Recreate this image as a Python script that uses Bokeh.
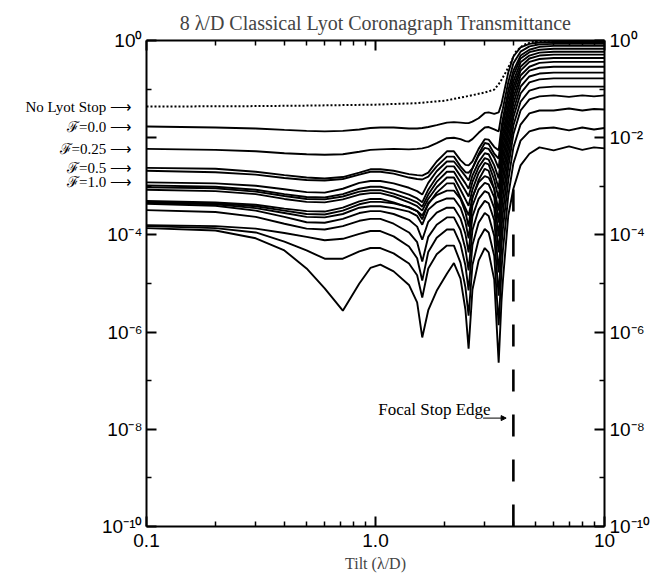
from bokeh.plotting import figure
from bokeh.models import (LogAxis, FixedTicker, CustomJSTickFormatter, Label, Arrow, NormalHead)
from bokeh.embed import file_html
from bokeh.resources import INLINE

# ---------------- data ----------------
tilt = [0.1, 0.2, 0.3, 0.4, 0.5, 0.6, 0.72, 0.85, 0.95, 1.05, 1.2, 1.4, 1.52, 1.6, 1.7, 1.85,
        2.05, 2.2, 2.35, 2.47, 2.55, 2.65, 2.82, 3.0, 3.12, 3.3, 3.45, 3.55, 3.6, 3.8, 4.0,
        4.3, 4.7, 5.2, 6.0, 7.0, 8.0, 9.0, 10.0]

# log10 of transmittance, one list per Lyot-stop curve (top to bottom)
curve_01 = [-1.77,-1.79,-1.81,-1.84,-1.86,-1.87,-1.86,-1.83,-1.80,-1.79,-1.79,-1.81,-1.81,-1.80,-1.78,-1.74,-1.69,-1.68,-1.69,-1.70,-1.70,-1.67,-1.60,-1.49,-1.48,-1.51,-1.48,-1.30,-1.17,-0.66,-0.33,-0.14,-0.07,-0.04,-0.03,-0.03,-0.03,-0.03,-0.03]
curve_02 = [-2.23,-2.25,-2.28,-2.32,-2.34,-2.35,-2.34,-2.29,-2.25,-2.24,-2.23,-2.24,-2.23,-2.22,-2.19,-2.11,-2.01,-2.00,-2.03,-2.07,-2.08,-2.03,-1.90,-1.79,-1.78,-1.83,-1.87,-1.52,-1.40,-0.86,-0.47,-0.23,-0.12,-0.08,-0.07,-0.07,-0.07,-0.07,-0.07]
curve_03 = [-2.62,-2.64,-2.70,-2.77,-2.82,-2.84,-2.81,-2.72,-2.65,-2.65,-2.68,-2.75,-2.77,-2.78,-2.72,-2.49,-2.28,-2.28,-2.46,-2.56,-2.57,-2.49,-2.23,-2.03,-2.04,-2.19,-2.26,-1.77,-1.61,-1.03,-0.62,-0.31,-0.19,-0.13,-0.11,-0.11,-0.11,-0.11,-0.11]
curve_04 = [-2.68,-2.71,-2.76,-2.83,-2.87,-2.88,-2.85,-2.76,-2.70,-2.70,-2.74,-2.82,-2.85,-2.86,-2.80,-2.59,-2.39,-2.39,-2.59,-2.71,-2.72,-2.63,-2.34,-2.11,-2.13,-2.33,-2.43,-1.92,-1.75,-1.17,-0.72,-0.37,-0.24,-0.19,-0.17,-0.17,-0.17,-0.17,-0.17]
curve_05 = [-2.92,-2.94,-2.99,-3.06,-3.12,-3.13,-3.05,-2.93,-2.89,-2.89,-2.94,-3.03,-3.10,-3.17,-2.93,-2.69,-2.49,-2.49,-2.66,-2.79,-2.88,-2.63,-2.37,-2.21,-2.23,-2.41,-2.63,-2.09,-1.91,-1.32,-0.84,-0.45,-0.31,-0.25,-0.23,-0.23,-0.23,-0.23,-0.23]
curve_06 = [-2.98,-3.01,-3.07,-3.16,-3.22,-3.23,-3.16,-3.05,-3.01,-3.01,-3.07,-3.17,-3.25,-3.33,-3.07,-2.81,-2.59,-2.59,-2.79,-2.94,-3.05,-2.78,-2.50,-2.32,-2.34,-2.57,-2.84,-2.26,-2.06,-1.44,-0.95,-0.54,-0.37,-0.31,-0.29,-0.29,-0.29,-0.29,-0.29]
curve_07 = [-3.02,-3.04,-3.11,-3.20,-3.26,-3.27,-3.21,-3.11,-3.08,-3.08,-3.15,-3.26,-3.33,-3.42,-3.17,-2.91,-2.70,-2.70,-2.92,-3.09,-3.21,-2.91,-2.61,-2.42,-2.45,-2.72,-3.05,-2.43,-2.22,-1.58,-1.05,-0.62,-0.44,-0.38,-0.36,-0.36,-0.36,-0.36,-0.36]
curve_08 = [-3.07,-3.10,-3.16,-3.26,-3.32,-3.33,-3.27,-3.17,-3.14,-3.14,-3.21,-3.33,-3.41,-3.50,-3.26,-3.02,-2.82,-2.82,-3.07,-3.27,-3.40,-3.07,-2.73,-2.52,-2.55,-2.87,-3.25,-2.60,-2.39,-1.73,-1.17,-0.72,-0.54,-0.46,-0.44,-0.44,-0.44,-0.44,-0.44]
curve_09 = [-3.30,-3.33,-3.38,-3.46,-3.51,-3.52,-3.44,-3.31,-3.26,-3.26,-3.33,-3.44,-3.51,-3.60,-3.37,-3.13,-2.94,-2.94,-3.23,-3.45,-3.60,-3.24,-2.87,-2.64,-2.68,-3.06,-3.50,-2.80,-2.57,-1.87,-1.30,-0.82,-0.62,-0.56,-0.54,-0.54,-0.54,-0.54,-0.54]
curve_10 = [-3.32,-3.35,-3.41,-3.50,-3.57,-3.58,-3.50,-3.37,-3.32,-3.32,-3.35,-3.43,-3.51,-3.68,-3.34,-3.18,-3.09,-3.09,-3.26,-3.53,-3.83,-3.22,-2.92,-2.79,-2.82,-3.05,-3.75,-3.02,-2.78,-2.04,-1.44,-0.95,-0.74,-0.68,-0.66,-0.66,-0.66,-0.66,-0.66]
curve_11 = [-3.34,-3.37,-3.45,-3.55,-3.63,-3.64,-3.57,-3.44,-3.41,-3.41,-3.45,-3.52,-3.61,-3.79,-3.48,-3.33,-3.25,-3.25,-3.44,-3.73,-4.07,-3.40,-3.07,-2.93,-2.96,-3.23,-4.03,-3.24,-2.98,-2.22,-1.58,-1.09,-0.86,-0.80,-0.78,-0.78,-0.78,-0.78,-0.78]
curve_12 = [-3.36,-3.40,-3.50,-3.63,-3.74,-3.75,-3.67,-3.55,-3.51,-3.51,-3.57,-3.69,-3.83,-4.10,-3.73,-3.54,-3.44,-3.44,-3.66,-3.98,-4.36,-3.62,-3.26,-3.10,-3.14,-3.45,-4.36,-3.53,-3.25,-2.41,-1.75,-1.26,-1.03,-0.97,-0.95,-0.95,-0.95,-0.95,-0.95]
curve_13 = [-3.49,-3.53,-3.63,-3.77,-3.87,-3.89,-3.82,-3.71,-3.67,-3.67,-3.77,-3.95,-4.15,-4.55,-4.04,-3.79,-3.64,-3.64,-3.90,-4.29,-4.73,-3.90,-3.48,-3.30,-3.35,-3.70,-4.77,-3.85,-3.54,-2.61,-1.93,-1.44,-1.21,-1.15,-1.13,-1.16,-1.13,-1.15,-1.13]
curve_14 = [-3.80,-3.82,-3.87,-3.96,-4.04,-4.11,-4.08,-3.98,-3.92,-3.92,-4.03,-4.24,-4.48,-4.94,-4.35,-4.06,-3.89,-3.89,-4.19,-4.63,-5.14,-4.21,-3.75,-3.55,-3.61,-4.02,-5.25,-4.22,-3.87,-2.88,-2.20,-1.73,-1.50,-1.44,-1.44,-1.40,-1.44,-1.41,-1.42]
curve_15 = [-3.82,-3.86,-3.95,-4.14,-4.32,-4.49,-4.49,-4.34,-4.27,-4.27,-4.38,-4.59,-4.83,-5.29,-4.69,-4.40,-4.22,-4.22,-4.57,-5.08,-5.66,-4.62,-4.10,-3.88,-3.95,-4.43,-5.86,-4.71,-4.32,-3.19,-2.53,-2.06,-1.87,-1.81,-1.79,-1.85,-1.79,-1.83,-1.80]
curve_16 = [-3.86,-3.91,-4.07,-4.32,-4.69,-5.10,-5.56,-5.00,-4.68,-4.61,-4.75,-5.03,-5.39,-6.11,-5.55,-5.15,-4.80,-4.58,-4.90,-5.54,-6.34,-5.13,-4.53,-4.27,-4.36,-4.92,-6.63,-5.36,-4.94,-3.60,-3.05,-2.57,-2.33,-2.20,-2.26,-2.18,-2.25,-2.20,-2.22]

curves = [curve_01, curve_02, curve_03, curve_04, curve_05, curve_06, curve_07, curve_08,
          curve_09, curve_10, curve_11, curve_12, curve_13, curve_14, curve_15, curve_16]

# "No Lyot Stop" dotted curve
nolyot_tilt = [0.1, 0.3, 0.5, 1.0, 1.5, 2.0, 2.5, 3.0, 3.3, 3.5, 3.7, 3.9, 4.1, 4.4, 4.8, 5.5, 7.0, 10.0]
nolyot_log = [-1.36,-1.35,-1.34,-1.32,-1.29,-1.24,-1.15,-1.07,-1.01,-0.86,-0.66,-0.45,-0.23,-0.10,-0.03,-0.01,-0.006,-0.004]

focal_stop_edge = 4.0          # lambda/D
focal_stop_line_top = -3.0     # log10, top of the drawn dashed line

left_labels = ["No Lyot Stop   \u27f6", "\u2131=0.0   \u27f6", "\u2131=0.25   \u27f6",
               "\u2131=0.5   \u27f6", "\u2131=1.0   \u27f6"]
left_label_levels = [nolyot_log[0], curve_01[0], curve_02[0], curve_03[0], curve_05[0]]

x_ticks = [0.1, 1.0, 10.0]
x_tick_labels = ["0.1", "1.0", "10"]
x_minor = [0.2, 0.3, 0.4, 0.5, 0.6, 0.7, 0.8, 0.9, 2, 3, 4, 5, 6, 7, 8, 9]
y_ticks = [1e-10, 1e-8, 1e-6, 1e-4, 1e-2, 1.0]
y_tick_labels_right = ["10\u207b\u00b9\u2070", "10\u207b\u2078", "10\u207b\u2076", "10\u207b\u2074", "10\u207b\u00b2", "10\u2070"]
y_tick_labels_left = ["10\u207b\u00b9\u2070", "10\u207b\u2078", "10\u207b\u2076", "10\u207b\u2074", "", "10\u2070"]
y_minor = [1e-9, 1e-7, 1e-5, 1e-3, 1e-1]

SERIF = "Liberation Serif"
SANS = "Liberation Sans"

# ---------------- figure ----------------
p = figure(width=653, height=580, x_axis_type="log", y_axis_type="log",
           x_range=(0.1, 10), y_range=(1e-10, 1.0),
           output_backend="svg", toolbar_location=None,
           min_border_left=146, min_border_right=49, min_border_top=40, min_border_bottom=54)
p.title.text = "8 \u03bb/D Classical Lyot Coronagraph Transmittance"
p.title.text_font = SERIF
p.title.text_font_size = "20px"
p.title.text_font_style = "normal"
p.title.align = "center"
p.title.standoff = 14
p.grid.visible = False
p.outline_line_color = None
p.background_fill_color = "white"
p.border_fill_color = "white"

def fmt(vals, labs):
    return CustomJSTickFormatter(args=dict(vals=vals, labs=labs), code="""
        for (let i = 0; i < vals.length; i++) {
            if (Math.abs(Math.log10(tick) - Math.log10(vals[i])) < 1e-6) { return labs[i]; }
        }
        return "";
    """)

def style(ax, show_labels):
    ax.axis_line_width = 2
    ax.axis_line_color = "black"
    ax.major_tick_in = 10
    ax.major_tick_out = 0
    ax.minor_tick_in = 5
    ax.minor_tick_out = 0
    ax.major_tick_line_width = 2
    ax.minor_tick_line_width = 1.5
    ax.major_tick_line_color = "black"
    ax.minor_tick_line_color = "black"
    ax.major_label_text_font = SANS
    ax.major_label_text_font_style = "normal"
    ax.major_label_text_color = "black"
    ax.major_label_text_font_size = "19px" if show_labels else "0px"

xt = FixedTicker(ticks=x_ticks, minor_ticks=x_minor)
yt = FixedTicker(ticks=y_ticks, minor_ticks=y_minor)

bottom = p.xaxis[0]
bottom.ticker = xt
bottom.formatter = fmt(x_ticks, x_tick_labels)
style(bottom, True)
bottom.major_label_standoff = 7
bottom.axis_label = "Tilt (\u03bb/D)"
bottom.axis_label_text_font = SERIF
bottom.axis_label_text_font_size = "16px"
bottom.axis_label_text_font_style = "normal"
bottom.axis_label_standoff = 5

left = p.yaxis[0]
left.ticker = yt
left.formatter = fmt(y_ticks, y_tick_labels_left)
style(left, True)
left.major_label_standoff = 4

# outer left axis carrying the curve annotations ("No Lyot Stop ->", "F=0.0 ->", ...)
label_levels = [10 ** v for v in left_label_levels]
ann = LogAxis(ticker=FixedTicker(ticks=label_levels, minor_ticks=[]),
              formatter=fmt(label_levels, left_labels))
ann.axis_line_color = None
ann.major_tick_line_color = None
ann.minor_tick_line_color = None
ann.major_label_text_font = SERIF
ann.major_label_text_font_size = "15px"
ann.major_label_text_font_style = "normal"
ann.major_label_text_color = "black"
ann.major_label_standoff = -46
p.add_layout(ann, "left")

right = LogAxis(ticker=yt, formatter=fmt(y_ticks, y_tick_labels_right))
style(right, True)
right.major_label_standoff = 5
p.add_layout(right, "right")

top = LogAxis(ticker=xt, formatter=fmt(x_ticks, ["", "", ""]))
style(top, False)
top.major_label_standoff = 0
p.add_layout(top, "above")

# focal stop edge (dashed)
p.line([focal_stop_edge, focal_stop_edge], [1e-10, 10 ** focal_stop_line_top],
       line_color="black", line_width=2.6, line_dash="22 23")

# curves
for c in curves:
    p.line(tilt, [10 ** v for v in c], line_color="black", line_width=1.9)

p.line(nolyot_tilt, [10 ** v for v in nolyot_log], line_color="black",
       line_width=2, line_dash="2 2")

# focal stop edge annotation
p.add_layout(Label(x=3.18, y=2.6e-8, text="Focal Stop Edge", text_align="right",
                   text_baseline="middle", text_font=SERIF, text_font_size="17px",
                   text_color="black"))
p.add_layout(Arrow(x_start=2.95, x_end=3.72, y_start=1.7e-8, y_end=1.7e-8,
                   line_width=1, line_color="black",
                   end=NormalHead(size=5, fill_color="black", line_color="black")))

with open("out.html", "w", encoding="utf-8") as f:
    f.write(file_html(p, INLINE))
